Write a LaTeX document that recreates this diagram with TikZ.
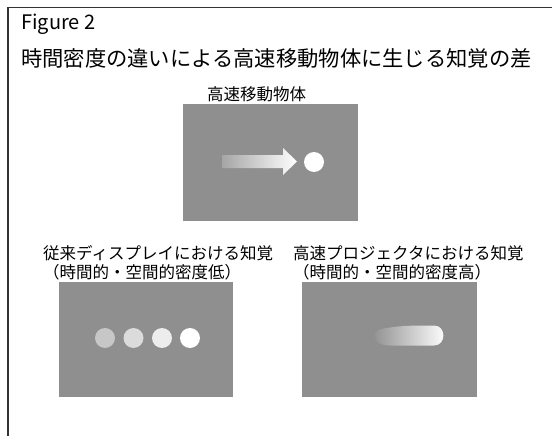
\documentclass[tikz,border=0pt]{standalone}
\usepackage{fontspec}
\setmainfont{Noto Sans CJK JP}
\usetikzlibrary{shadings}
\definecolor{bg}{HTML}{8F8F8F}
\definecolor{framec}{HTML}{333333}
\tikzset{
  panel/.style={fill=bg, draw=none},
  dot/.style={circle, inner sep=0pt, minimum size=20pt, draw=none},
  big/.style={anchor=base west, inner sep=0pt, font=\fontsize{20}{24}\selectfont},
  mid/.style={anchor=base west, inner sep=0pt, font=\fontsize{16.5}{20}\selectfont},
}
\begin{document}
\begin{tikzpicture}[x=1pt,y=-1pt]
\useasboundingbox (0,0) rectangle (552,436);
\clip (0,0) rectangle (552,436);
\fill[white] (0,0) rectangle (552,436);
\draw[framec, line width=1.3pt] (8,7.5) rectangle (620,480);
\node[big] (fig) at (21,30) {Figure 2};
\node[big, font=\fontsize{21.3}{24}\selectfont] (title) at (21,66.5) {時間密度の違いによる高速移動物体に生じる知覚の差};
\node[mid] (cap1) at (207,100.5) {高速移動物体};
\node[panel, minimum width=175pt, minimum height=117pt, inner sep=0pt] (p1) at (270.5,162.5) {};
\shade[left color=bg!80!white, right color=white] (222,155) -- (283,155) -- (283,148) -- (297,161.5) -- (283,175) -- (283,168) -- (222,168) -- cycle;
\node[dot, fill=white] (ball) at (314,162) {};
\node[mid] (cap2) at (43,259) {従来ディスプレイにおける知覚};
\node[mid] (cap2b) at (43,278.5) {（時間的・空間的密度低）};
\node[panel, minimum width=174pt, minimum height=115pt, inner sep=0pt] (p2) at (146,339.5) {};
\node[dot, fill=white!78!black] (d1) at (105,338) {};
\node[dot, fill=white!86!black] (d2) at (133.5,338) {};
\node[dot, fill=white!93!black] (d3) at (162,338) {};
\node[dot, fill=white] (d4) at (190,338) {};
\node[mid] (cap3) at (293,259) {高速プロジェクタにおける知覚};
\node[mid] (cap3b) at (293,278.5) {（時間的・空間的密度高）};
\node[panel, minimum width=175pt, minimum height=115pt, inner sep=0pt] (p3) at (389.5,339.5) {};
\shade[left color=bg!95!white, middle color=white!90!bg, right color=white] (375,336) .. controls (375,330) and (380,329) .. (390,327.5) .. controls (400,326) and (410,325.5) .. (425,325.5) -- (434,325.5) .. controls (446.5,325.5) and (446.5,345.5) .. (434,345.5) -- (390,345.5) .. controls (380,345.2) and (375,342) .. (375,336) -- cycle;
\end{tikzpicture}
\end{document}
